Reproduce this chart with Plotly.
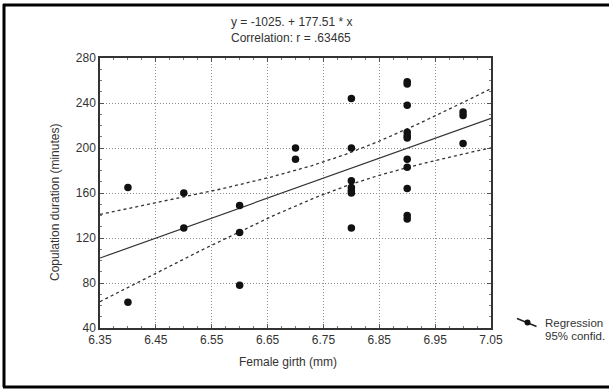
import numpy as np
import plotly.graph_objects as go

# ---- data ----
girth = [6.40, 6.40,
         6.50, 6.50,
         6.60, 6.60, 6.60,
         6.70, 6.70,
         6.80, 6.80, 6.80, 6.80, 6.80, 6.80, 6.80,
         6.90, 6.90, 6.90, 6.90, 6.90, 6.90, 6.90, 6.90, 6.90, 6.90, 6.90,
         7.00, 7.00, 7.00]
duration = [165, 63,
            160, 129,
            149, 125, 78,
            200, 190,
            244, 200, 171, 165, 162, 160, 129,
            259, 257, 238, 214, 211, 209, 190, 183, 164, 140, 137,
            232, 229, 204]

intercept = -1025.0
slope = 177.51
eq_text = "y = -1025. + 177.51 * x"
corr_text = "Correlation: r = .63465"
x_ticks = [6.35, 6.45, 6.55, 6.65, 6.75, 6.85, 6.95, 7.05]
y_ticks = [40, 80, 120, 160, 200, 240, 280]
x_title = "Female girth (mm)"
y_title = "Copulation duration (minutes)"
legend_labels = ["Regression", "95% confid."]

# ---- regression and 95% confidence band ----
x = np.array(girth, dtype=float)
y = np.array(duration, dtype=float)
n = len(x)
xbar = x.mean()
sxx = ((x - xbar) ** 2).sum()
resid = y - (intercept + slope * x)
s = np.sqrt((resid ** 2).sum() / (n - 2))
t_crit = 2.048  # t(0.975, 28)

xl = np.linspace(x_ticks[0], x_ticks[-1], 200)
yl = intercept + slope * xl
hw = t_crit * s * np.sqrt(1.0 / n + (xl - xbar) ** 2 / sxx)

# ---- geometry (pixels) ----
W, H = 609, 389
L, R, T, B = 100, 491, 58, 328
pw, ph = R - L, B - T


def px(xp):
    return (xp - L) / pw


def py(yp):
    return (B - yp) / ph


FONT = "Liberation Sans, Arial, sans-serif"

fig = go.Figure()
fig.add_trace(go.Scatter(x=xl, y=yl + hw, mode="lines",
                         line=dict(color="#333", width=1.3, dash="3px,3px"),
                         hoverinfo="skip", showlegend=False))
fig.add_trace(go.Scatter(x=xl, y=yl - hw, mode="lines",
                         line=dict(color="#333", width=1.3, dash="3px,3px"),
                         hoverinfo="skip", showlegend=False))
fig.add_trace(go.Scatter(x=xl, y=yl, mode="lines",
                         line=dict(color="#333", width=1.2),
                         hoverinfo="skip", showlegend=False))
fig.add_trace(go.Scatter(x=girth, y=duration, mode="markers",
                         marker=dict(color="#111", size=7.5),
                         showlegend=False))

axis_common = dict(
    showline=True, linecolor="#333", linewidth=1.5, mirror="allticks",
    ticks="inside", ticklen=4, tickcolor="#555", tickwidth=1,
    showgrid=True, gridcolor="#8c8c8c", gridwidth=1, griddash="1px,2px",
    zeroline=False, tickfont=dict(family=FONT, size=12, color="#333"),
)

fig.update_xaxes(range=[x_ticks[0], x_ticks[-1]], tickvals=x_ticks,
                 ticktext=[f"{v:.2f}" for v in x_ticks],
                 minor=dict(dtick=0.025, tick0=6.35, ticks="inside", ticklen=2,
                            tickcolor="#777", showgrid=False),
                 **axis_common)
fig.update_yaxes(range=[y_ticks[0], y_ticks[-1]], tickvals=y_ticks,
                 ticktext=[str(v) for v in y_ticks],
                 minor=dict(dtick=10, ticks="inside", ticklen=2,
                            tickcolor="#777", showgrid=False),
                 **axis_common)

ann_font = dict(family=FONT, size=12, color="#333")
leg_font = dict(family=FONT, size=11.5, color="#333")
annotations = [
    dict(text=eq_text, x=px(291), y=py(22), xref="paper", yref="paper",
         showarrow=False, font=ann_font, xanchor="center", yanchor="middle"),
    dict(text=corr_text, x=px(291), y=py(38), xref="paper", yref="paper",
         showarrow=False, font=ann_font, xanchor="center", yanchor="middle"),
    dict(text=x_title, x=px(288), y=py(362), xref="paper", yref="paper",
         showarrow=False, font=ann_font, xanchor="center", yanchor="middle"),
    dict(text=y_title, x=px(55), y=py(203), xref="paper", yref="paper",
         showarrow=False, font=ann_font, textangle=-90,
         xanchor="center", yanchor="middle"),
    dict(text=legend_labels[0], x=px(544), y=py(323), xref="paper", yref="paper",
         showarrow=False, font=leg_font, xanchor="left", yanchor="middle",
         borderpad=0),
    dict(text=legend_labels[1], x=px(544), y=py(335.5), xref="paper", yref="paper",
         showarrow=False, font=leg_font, xanchor="left", yanchor="middle",
         borderpad=0),
]

shapes = [
    # outer frame
    dict(type="line", xref="paper", yref="paper", x0=px(4), x1=px(4),
         y0=py(4), y1=py(387), line=dict(color="#000", width=3)),
    dict(type="line", xref="paper", yref="paper", x0=px(3), x1=px(612),
         y0=py(5), y1=py(5), line=dict(color="#000", width=3)),
    dict(type="line", xref="paper", yref="paper", x0=px(3), x1=px(612),
         y0=py(387), y1=py(387), line=dict(color="#000", width=3)),
    # legend glyph
    dict(type="line", xref="paper", yref="paper", x0=px(517), x1=px(536.5),
         y0=py(318.5), y1=py(326.5), line=dict(color="#222", width=1.5)),
    dict(type="circle", xref="paper", yref="paper", x0=px(524.5), x1=px(530.5),
         y0=py(319.5), y1=py(325.5), fillcolor="#111", line=dict(color="#111", width=0)),
]

fig.update_layout(
    width=W, height=H,
    margin=dict(l=L, r=W - R, t=T, b=H - B),
    paper_bgcolor="white", plot_bgcolor="white",
    showlegend=False,
    annotations=annotations, shapes=shapes,
    font=dict(family=FONT, size=12, color="#333"),
)

fig.write_html("out.html",
               config={"displayModeBar": False},
               post_script="document.body.style.margin='0';"
                           "document.body.style.overflow='hidden';")
